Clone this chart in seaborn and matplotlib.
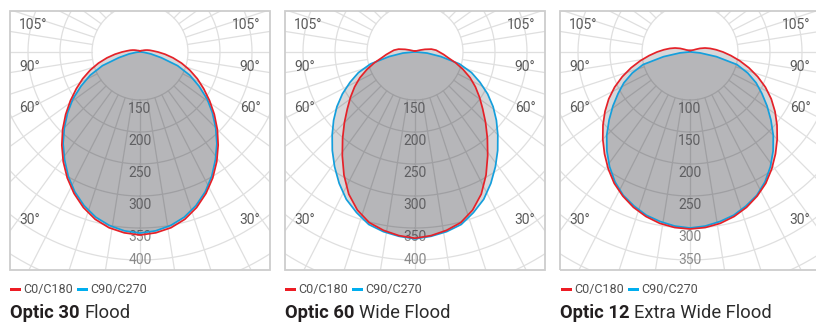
import numpy as np
import pandas as pd
import seaborn as sns
import matplotlib
matplotlib.use("Agg")
import matplotlib.pyplot as plt
from matplotlib.patches import Rectangle

# ---------------- data (candela values) ----------------
angles = [0, 5, 10, 15, 20, 25, 30, 35, 40, 45, 50, 55, 60, 65, 70, 75, 80, 85, 90,
          95, 100, 105, 110, 115, 120, 135, 150, 165, 180]

optic30_c0 = [361, 358.6, 353.8, 345.6, 333.6, 318.9, 302.3, 284.1, 265, 245.9, 226.6, 207.8, 190, 173.8,
              157.8, 142.2, 127.3, 114.1, 103.1, 95.3, 90.6, 86.7, 83.6, 81.3, 79.7, 78.1, 77.3, 76.6, 76.6]
optic30_c90 = [358, 355.5, 350.3, 342.2, 330.5, 316.1, 299.2, 280.5, 261.9, 242.2, 222.7, 203.1, 181.3,
               160.9, 137.5, 109.4, 92.2, 81.3, 76.6, 76, 76, 76, 76, 76, 76, 76, 76, 76, 76]

optic60_c0 = [366, 363, 358, 351, 338, 320, 297, 273, 251, 231, 213, 198, 184, 170, 155, 141, 128, 120, 113,
              108, 101, 91, 84, 80.5, 79, 77.3, 76.5, 76.5, 76.5]
optic60_c90 = [367, 364, 360, 354, 342, 329, 312, 294, 276, 258, 241, 224, 206, 187, 169, 147, 116, 94, 77,
               76, 76, 76, 76, 76, 76, 76, 76, 76, 76]

optic12_c0 = [301.6, 300.3, 296.9, 291.1, 283.3, 273.4, 261.9, 247.8, 232.8, 217.7, 202.5, 187.2, 171.6,
              155, 137.5, 120.3, 103.9, 89.1, 76.6, 65.9, 57, 49.2, 41.4, 34.7, 31.3, 28.9, 28.1, 27.3, 27.3]
optic12_c90 = [300, 298, 294, 289, 281, 272, 259.4, 244, 227, 209, 190, 172, 154.7, 139, 121, 101, 67, 40.6,
               26.6, 26, 26, 26, 26, 26, 26, 26, 26, 26, 26]

rings_a = [150, 200, 250, 300, 350, 400]
rings_b = [100, 150, 200, 250, 300, 350]

titles_bold = ["Optic 30", "Optic 60", "Optic 12"]
titles_rest = ["Flood", "Wide Flood", "Extra Wide Flood"]
angle_labels = ["105°", "90°", "60°", "30°"]
legend_labels = ["C0/C180", "C90/C270"]

panels = [
    (optic30_c0, optic30_c90, rings_a),
    (optic60_c0, optic60_c90, rings_a),
    (optic12_c0, optic12_c90, rings_b),
]

# ---------------- style ----------------
sns.set_theme(style="white")
plt.rcParams["font.family"] = ["Roboto", "DejaVu Sans"]

W, H = 816, 322
RED = "#e52229"
BLUE = "#159fdc"
RED_SW = "#ed1c24"
BLUE_SW = "#00aeef"
GRID = "#dfdfdf"
FILL = "#05050f"
PX = 0.64        # pixels per candela
R_AX = 272       # radius of the polar axes in pixels
HOLE = 48        # radius (px) of the first ring

def fx(x):
    return x / W

def fy(y):
    return 1 - y / H

fig = plt.figure(figsize=(W / 100, H / 100), dpi=100)

angle_label_y = [25, 67, 108, 220]

for i, (c0, c90, rings) in enumerate(panels):
    ox = 275 * i
    cx, cy = 140 + ox, 52
    ax = fig.add_axes([(cx - R_AX) / W, 1 - (cy + R_AX) / H, 2 * R_AX / W, 2 * R_AX / H],
                      projection="polar")
    ax.set_theta_zero_location("S")
    ax.patch.set_visible(False)
    for sp in ax.spines.values():
        sp.set_visible(False)
    ax.grid(False)

    clip = Rectangle((fx(10 + ox), fy(269.5)), 259.5 / W, 259 / H, transform=fig.transFigure)

    rmin = rings[0] - HOLE / PX
    rmax = rmin + R_AX / PX

    # grid: rings and spokes
    th = np.linspace(0, 2 * np.pi, 721)
    for rv in rings + [rings[-1] + 50]:
        l, = ax.plot(th, np.full_like(th, rv), color=GRID, lw=0.9, zorder=1)
        l.set_clip_path(clip)
    for a in np.arange(0, 360, 9):
        l, = ax.plot([np.deg2rad(a)] * 2, [rings[0], rmax], color=GRID, lw=0.9, zorder=1)
        l.set_clip_path(clip)

    # ring labels
    for j, rv in enumerate(rings):
        if j < len(rings) - 1:
            t = ax.annotate(str(rv), xy=(0, rv), xytext=(0, -1.5), textcoords="offset points",
                            ha="center", va="top", fontsize=10, color="#858585", zorder=1.5)
        else:
            t = ax.annotate(str(rv), xy=(0, rv), xytext=(0, 0), textcoords="offset points",
                            ha="center", va="center", fontsize=10, color="#8a8a8a", zorder=1.5)
        t.set_clip_path(clip)

    # curves
    ang = np.array(angles, dtype=float)
    theta_full = np.deg2rad(np.concatenate([-ang[::-1], ang[1:]]))
    for vals in (c90, c0):
        v = np.array(vals, dtype=float)
        v_full = np.concatenate([v[::-1], v[1:]])
        polys = ax.fill(theta_full, v_full, color=FILL, alpha=0.155, lw=0, zorder=2)
        for p in polys:
            p.set_clip_path(clip)
    for vals, col in ((c90, BLUE), (c0, RED)):
        v = np.array(vals, dtype=float)
        v_full = np.concatenate([v[::-1], v[1:]])
        df = pd.DataFrame({"theta": theta_full, "cd": v_full})
        sns.lineplot(data=df, x="theta", y="cd", ax=ax, sort=False, estimator=None,
                     color=col, lw=1.25, zorder=3)
        ax.lines[-1].set_clip_path(clip)

    ax.set_ylim(rmin, rmax)
    ax.set_xticks([])
    ax.set_yticks([])
    ax.set_xlabel("")
    ax.set_ylabel("")

    # box
    fig.add_artist(Rectangle((fx(10 + ox), fy(269.5)), 259.5 / W, 259 / H, transform=fig.transFigure,
                             fill=False, ec="#cdcdcd", lw=1.3, zorder=5))

    # angle labels
    for lab, yy in zip(angle_labels, angle_label_y):
        fig.text(fx(19 + ox), fy(yy), lab, ha="left", va="center", fontsize=10, color="#5a5a5a")
        fig.text(fx(260.5 + ox), fy(yy), lab, ha="right", va="center", fontsize=10, color="#5a5a5a")

    # legend
    lx = 9.5 + ox + (1 if i == 2 else 0)
    fig.add_artist(Rectangle((fx(lx), fy(291)), 11.5 / W, 3.5 / H, transform=fig.transFigure,
                             color=RED_SW, lw=0))
    fig.text(fx(lx + 13.5), fy(289.5), legend_labels[0], ha="left", va="center", fontsize=9,
             color="#505050")
    fig.add_artist(Rectangle((fx(lx + 67.5), fy(291)), 11 / W, 3.5 / H, transform=fig.transFigure,
                             color=BLUE_SW, lw=0))
    fig.text(fx(lx + 81), fy(289.5), legend_labels[1], ha="left", va="center", fontsize=9,
             color="#505050")

    # title
    tb = fig.text(fx(10 + ox), fy(318), titles_bold[i], ha="left", va="baseline", fontsize=13.2,
                  fontweight="bold", color="#231f20")
    renderer = fig.canvas.get_renderer()
    bb = tb.get_window_extent(renderer)
    fig.text((bb.x1 + 4.6) / W, fy(318), titles_rest[i], ha="left", va="baseline", fontsize=13.2,
             color="#2b2b2b")

fig.savefig("out.png", dpi=100)
